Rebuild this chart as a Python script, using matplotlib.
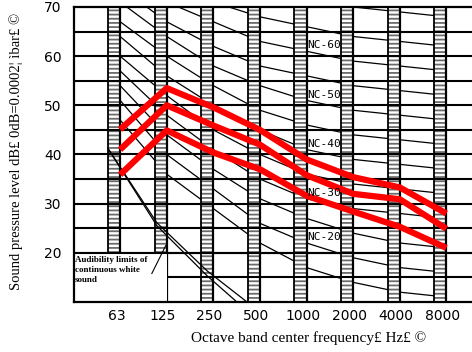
import matplotlib
matplotlib.use("Agg")
import matplotlib.pyplot as plt
from matplotlib.patches import Rectangle

plt.rcParams["hatch.linewidth"] = 1.3

# octave bands, plotted at positions 0..7
bands = ["63", "125", "250", "500", "1000", "2000", "4000", "8000"]
band_pos = list(range(len(bands)))

# NC rating curves (dB per octave band)
nc_levels = [15, 20, 25, 30, 35, 40, 45, 50, 55, 60, 65, 70]
nc_values = [
    [47, 36, 29, 22, 17, 14, 12, 11],
    [51, 40, 33, 26, 22, 19, 17, 16],
    [54, 44, 37, 31, 27, 24, 22, 21],
    [57, 48, 41, 35, 31, 29, 28, 27],
    [60, 52, 45, 40, 36, 34, 33, 32],
    [64, 56, 50, 45, 41, 39, 38, 37],
    [67, 60, 54, 49, 46, 44, 43, 42],
    [71, 64, 58, 54, 51, 49, 48, 47],
    [74, 67, 62, 58, 56, 54, 53, 52],
    [77, 71, 67, 63, 61, 59, 58, 57],
    [80, 75, 71, 68, 66, 64, 63, 62],
    [83, 79, 75, 72, 71, 70, 69, 68],
]
nc_labelled = [20, 30, 40, 50, 60]

# measured spectra
spectrum_high = [45.1, 53.5, 49.6, 45.0, 39.0, 35.4, 33.3, 28.0]
spectrum_mid = [41.0, 50.0, 45.9, 42.0, 35.8, 32.0, 30.9, 24.9]
spectrum_low = [35.9, 44.9, 40.4, 37.0, 31.6, 28.4, 25.3, 21.0]

# audibility limits of continuous white sound
audib_x_upper = [-0.26, 0.79, 1.87, 2.75]
audib_y_upper = [41.2, 26.1, 16.3, 9.8]
audib_x_lower = [-0.26, 0.79, 1.87, 2.53]
audib_y_lower = [41.2, 25.5, 15.3, 9.8]

y_ticks = [20, 30, 40, 50, 60, 70]

fig = plt.figure(figsize=(4.72, 3.52), dpi=100)
ax = fig.add_axes([74 / 472, 50 / 352, 1 - 74 / 472, 295 / 352])
ax.set_xlim(-0.99, 7.55)
ax.set_ylim(10, 70)

# horizontal grid every 5 dB
for y in range(15, 70, 5):
    ax.axhline(y, color="black", lw=1.5, zorder=3.5)

# NC curves sit under the band strips
for level, vals in zip(nc_levels, nc_values):
    ax.plot(band_pos, vals, color="black", lw=0.9, zorder=2)
    if level in nc_labelled:
        ax.text(4.02, vals[4] + 1.2, f"NC-{level}", family="DejaVu Sans Mono",
                fontsize=8, va="center", ha="left", zorder=7)

# hatched band strips
strip_w = 0.26
for i, x in enumerate(band_pos):
    y0 = 20 if i < 2 else 10
    ax.add_patch(Rectangle((x - strip_w, y0), strip_w, 70 - y0, facecolor="white",
                           edgecolor="0.42", lw=0, hatch="----", zorder=3))
    ax.plot([x - strip_w, x - strip_w], [y0, 70], color="black", lw=1.3, zorder=4)
    ax.plot([x, x], [10 if i > 0 else 20, 70], color="black", lw=1.6, zorder=4)

# blank box for the audibility note
ax.add_patch(Rectangle((-0.99, 10), 1.99, 10, facecolor="white", edgecolor="none", zorder=4.5))
ax.axhline(20, color="black", lw=1.5, zorder=4.6)
ax.text(-0.97, 19.4, "Audibility limits of\ncontinuous white\nsound", family="Liberation Serif",
        fontweight="bold", fontsize=6.5, va="top", ha="left", linespacing=1.35, zorder=7)
ax.plot([0.68, 0.98], [15.8, 21.5], color="black", lw=0.8, zorder=5)

ax.plot(audib_x_upper, audib_y_upper, color="black", lw=0.9, zorder=5)
ax.plot(audib_x_lower, audib_y_lower, color="black", lw=0.9, zorder=5)

for spec in (spectrum_high, spectrum_mid, spectrum_low):
    ax.plot(band_pos, spec, color="#ff0000", lw=4.5, solid_joinstyle="round",
            solid_capstyle="butt", zorder=6)

for side in ("left", "bottom", "top"):
    ax.spines[side].set_linewidth(1.6)
    ax.spines[side].set_zorder(8)
ax.spines["right"].set_visible(False)

ax.set_xticks([p - 0.08 for p in band_pos])
ax.set_xticklabels(bands)
ax.set_yticks(y_ticks)
ax.tick_params(axis="both", length=0, labelsize=10)
ax.tick_params(axis="y", pad=9)
ax.tick_params(axis="x", pad=5)

fig.text(0.034, 0.571, "Sound pressure level dB£ 0dB=0.0002¦ ìbar£ ©", rotation=90,
         family="Liberation Serif", fontsize=10.5, ha="center", va="center")
fig.text(0.653, 0.04, "Octave band center frequency£ Hz£ ©", family="Liberation Serif",
         fontsize=11, ha="center", va="center")

fig.savefig("out.png", dpi=100)
